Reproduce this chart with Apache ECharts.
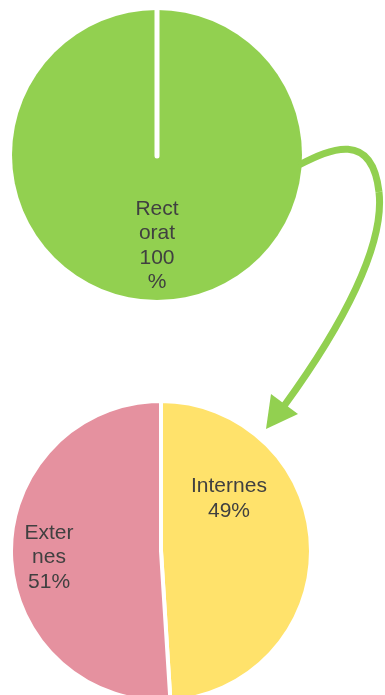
<!DOCTYPE html>
<html>
<head>
<meta charset="utf-8">
<script src="https://cdn.jsdelivr.net/npm/echarts@6/dist/echarts.min.js"></script>
<style>
html,body{margin:0;padding:0;background:#fff;}
#c{width:385px;height:695px;}
</style>
</head>
<body>
<div id="c"></div>
<script>
// ---- data ----
const topCategories = ['Rectorat'];
const topValues = [100];
const bottomCategories = ['Internes', 'Externes'];
const bottomValues = [49, 51];

// ---- style / layout ----
const TOP_CENTER = [157, 155], TOP_RADIUS = 145;
const BOTTOM_CENTER = [161, 551], BOTTOM_RADIUS = 150;
const topColors = ['#92D050'];
const bottomColors = ['#FFE26B', '#E5919F'];
const topLabelShift = [[0, 15]];
const bottomLabelShift = [[-10, -50], [-34, 4]];
const bottomLabelWidths = [84, 54];
const FONT = 'Liberation Sans, Arial, sans-serif';

const chart = echarts.init(document.getElementById('c'), null, {renderer: 'canvas'});

const baseLabel = {
  show: true,
  position: 'inside',
  formatter: '{b}\n{d}%',
  color: '#404040',
  fontSize: 21,
  lineHeight: 24.5,
  fontFamily: FONT,
  overflow: 'breakAll',
  align: 'center'
};

const option = {
  animation: false,
  backgroundColor: '#ffffff',
  series: [
    {
      type: 'pie',
      center: TOP_CENTER,
      radius: [0, TOP_RADIUS],
      startAngle: 90,
      clockwise: true,
      silent: true,
      label: Object.assign({}, baseLabel, {width: 46}),
      labelLine: {show: false},
      labelLayout: function (p) { const s = topLabelShift[p.dataIndex]; return {dx: s[0], dy: s[1]}; },
      itemStyle: {borderWidth: 0},
      data: topCategories.map((n, i) => ({name: n, value: topValues[i], itemStyle: {color: topColors[i]}}))
    },
    {
      type: 'pie',
      center: BOTTOM_CENTER,
      radius: [0, BOTTOM_RADIUS],
      startAngle: 90,
      clockwise: true,
      silent: true,
      label: baseLabel,
      labelLine: {show: false},
      labelLayout: function (p) { const s = bottomLabelShift[p.dataIndex]; return {dx: s[0], dy: s[1]}; },
      itemStyle: {borderColor: '#ffffff', borderWidth: 4},
      data: bottomCategories.map((n, i) => ({
        name: n, value: bottomValues[i],
        itemStyle: {color: bottomColors[i]},
        label: {width: bottomLabelWidths[i]}
      }))
    }
  ],
  graphic: [
    {
      // white radial separator at the start/end of the single 100% slice
      type: 'line',
      shape: {x1: TOP_CENTER[0], y1: TOP_CENTER[1] - TOP_RADIUS - 2, x2: TOP_CENTER[0], y2: TOP_CENTER[1] + 1},
      style: {stroke: '#ffffff', lineWidth: 5, lineCap: 'round'},
      z: 10
    },
    {
      type: 'bezierCurve',
      shape: {x1: 299, y1: 165, cpx1: 330, cpy1: 149, cpx2: 372, cpy2: 130, x2: 379, y2: 192},
      style: {stroke: '#92D050', lineWidth: 7, fill: null},
      z: 10
    },
    {
      type: 'bezierCurve',
      shape: {x1: 379, y1: 192, cpx1: 385, cpy1: 245, cpx2: 343, cpy2: 325, x2: 284, y2: 406},
      style: {stroke: '#92D050', lineWidth: 7, fill: null},
      z: 10
    },
    {
      type: 'polygon',
      shape: {points: [[266, 429], [271, 394], [298, 414]]},
      style: {fill: '#92D050'},
      z: 10
    }
  ]
};
chart.setOption(option);
</script>
</body>
</html>
